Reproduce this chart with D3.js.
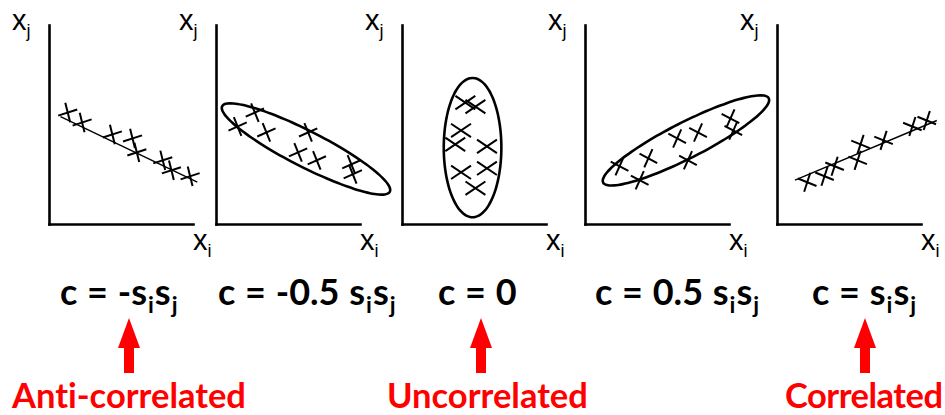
<!DOCTYPE html>
<html>
<head>
<meta charset="utf-8">
<script src="https://cdn.jsdelivr.net/npm/d3@7"></script>
<style>
  body { margin: 0; background: white; }
  svg { display: block; }
  text { font-variant-ligatures: none; }
</style>
</head>
<body>
<div class="svg-wrap"></div>
<script>

// data, in panel units (0..10 on both axes)
let antiPoints = [[1.3, 5.6], [2.3, 5.1], [4.4, 4.5], [5.8, 4.3], [6.1, 3.6], [7.9, 3.2], [8.5, 2.7], [9.8, 2.4]];
let antiLine = [[0.8, 5.4], [10.3, 2.1]];

let negPoints = [[1.5, 4.9], [2.7, 5.6], [3.5, 4.6], [6.4, 4.6], [5.7, 3.6], [7.0, 3.2], [9.4, 3.0], [9.5, 2.5]];
// centre x, centre y, major half-axis dx, dy, minor half-axis dx, dy
let negEllipse = [6.25, 3.77, 5.82, -2.15, 0.57, 0.8];

let zeroPoints = [[4.4, 6.1], [5.1, 5.9], [4.1, 4.7], [3.7, 4.0], [5.9, 3.9], [4.1, 2.6], [5.9, 2.8], [5.1, 1.8]];
let zeroEllipse = [4.9, 3.84, 2.0, 0, 0, 3.5];

let posPoints = [[2.4, 2.9], [3.8, 2.2], [4.4, 3.3], [6.4, 4.3], [7.85, 4.6], [7.15, 3.2], [10.1, 5.3], [10.3, 4.7]];
let posEllipse = [7.01, 4.2, 5.75, 2.12, 0.57, -0.8];

let corrPoints = [[2.1, 2.1], [3.3, 2.4], [4.0, 2.9], [5.6, 3.2], [5.8, 4.0], [7.4, 4.2], [9.4, 4.9], [10.4, 5.2]];
let corrLine = [[1.25, 2.2], [11.1, 5.2]];

// odd entries are subscripts
let equations = [
  ["c = -s", "i", "s", "j"],
  ["c = -0.5 s", "i", "s", "j"],
  ["c = 0"],
  ["c = 0.5 s", "i", "s", "j"],
  ["c = s", "i", "s", "j"]
];
let arrowLabels = ["Anti-correlated", "Uncorrelated", "Correlated"];

// layout
var width = 945, height = 415;
var panelX = [49, 216, 402, 585, 777],
  axisLen = 144,
  axisTop = 25,
  axisBottom = 224;
var eqX = [60, 218, 438, 595, 812];
var arrowX = [129, 481, 865];
var labelX = [12, 387, 785];

// marker: angles of the two strokes (deg) and half length
var panels = [
  { points: antiPoints, line: antiLine, marker: [-18, 76], len: 10 },
  { points: negPoints, ellipse: negEllipse, marker: [-24, 68], len: 10 },
  { points: zeroPoints, ellipse: zeroEllipse, marker: [34, -34], len: 12 },
  { points: posPoints, ellipse: posEllipse, marker: [28, -66], len: 10 },
  { points: corrPoints, line: corrLine, marker: [22, -72], len: 10 }
];

let svg = d3.select(".svg-wrap")
  .append('svg')
  .attr('width', width)
  .attr('height', height)
  .style("background-color", "white");

panels.forEach((p, i) => drawPanel(p, panelX[i]));
drawEquations();
drawArrows();

function drawPanel(p, x0) {
  let g = svg.append('g');
  let scaleX = d3.scaleLinear().domain([0, 10]).range([x0, x0 + axisLen]);
  let scaleY = d3.scaleLinear().domain([0, 10]).range([axisBottom, axisTop]);

  g.append('g')
    .attr('transform', `translate(0,${axisBottom})`)
    .call(d3.axisBottom(scaleX).ticks(0).tickSizeOuter(0));
  g.append('g')
    .attr('transform', `translate(${x0},0)`)
    .call(d3.axisLeft(scaleY).ticks(0).tickSizeOuter(0));
  g.selectAll('.domain')
    .attr('stroke', '#000')
    .attr('stroke-width', 2.6)
    .attr('stroke-linecap', 'square');

  let line = d3.line().x(d => scaleX(d[0])).y(d => scaleY(d[1]));

  if (p.line) {
    g.append('path')
      .attr('d', line(p.line))
      .attr('fill', 'none')
      .attr('stroke', '#000')
      .attr('stroke-width', 1.4);
  }

  if (p.ellipse) {
    let e = p.ellipse;
    let ring = d3.range(0, 72).map(k => {
      let t = k / 72 * 2 * Math.PI;
      return [e[0] + e[2] * Math.cos(t) + e[4] * Math.sin(t),
              e[1] + e[3] * Math.cos(t) + e[5] * Math.sin(t)];
    });
    g.append('path')
      .attr('d', line.curve(d3.curveCardinalClosed)(ring))
      .attr('fill', 'none')
      .attr('stroke', '#000')
      .attr('stroke-width', 2.6);
  }

  let marks = g.selectAll('.mark')
    .data(p.points)
    .enter()
    .append('g')
    .attr('class', 'mark')
    .attr('transform', d => `translate(${scaleX(d[0])},${scaleY(d[1])})`);

  p.marker.forEach(a => {
    let r = a * Math.PI / 180, len = p.len;
    marks.append('line')
      .attr('x1', -len * Math.cos(r))
      .attr('y1', -len * Math.sin(r))
      .attr('x2', len * Math.cos(r))
      .attr('y2', len * Math.sin(r))
      .attr('stroke', '#000')
      .attr('stroke-width', 2);
  });

  axisLabel(x0 - 37, 30, 'j');
  axisLabel(x0 + axisLen, 250, 'i');
}

function axisLabel(x, y, sub) {
  let t = svg.append('text')
    .attr('x', x)
    .attr('y', y)
    .style('font-family', '"Liberation Sans", Arial, sans-serif')
    .style('font-size', '29px')
    .style('fill', '#000');
  t.append('tspan').text('x');
  t.append('tspan')
    .attr('dy', 7)
    .style('font-size', '18px')
    .text(sub);
}

function drawEquations() {
  equations.forEach((parts, i) => {
    let t = svg.append('text')
      .attr('x', eqX[i])
      .attr('y', 305)
      .style('font-family', 'Lato, "Open Sans", sans-serif')
      .style('font-weight', 700)
      .style('font-size', '36px')
      .style('word-spacing', '1px')
      .style('fill', '#000');
    parts.forEach((s, k) => {
      let sp = t.append('tspan').text(s);
      if (k % 2 == 1) {
        sp.attr('dy', 8).attr('dx', 1).style('font-size', '23px');
      } else if (k > 0) {
        sp.attr('dy', -8).attr('dx', 1);
      }
    });
  });
}

function drawArrows() {
  let arrow = d3.line();
  arrowX.forEach((cx, i) => {
    let shape = [[cx, 318], [cx + 11, 348], [cx + 5, 348], [cx + 5, 373],
                 [cx - 5, 373], [cx - 5, 348], [cx - 11, 348]];
    svg.append('path')
      .attr('d', arrow(shape) + 'Z')
      .attr('fill', '#ff0000');

    svg.append('text')
      .attr('x', labelX[i])
      .attr('y', 408)
      .style('font-family', 'Lato, "Open Sans", sans-serif')
      .style('font-weight', 700)
      .style('font-size', '34.5px')
      .style('letter-spacing', i == 2 ? '-0.5px' : null)
      .style('fill', '#ff0000')
      .text(arrowLabels[i]);
  });
}
</script>
</body>
</html>
